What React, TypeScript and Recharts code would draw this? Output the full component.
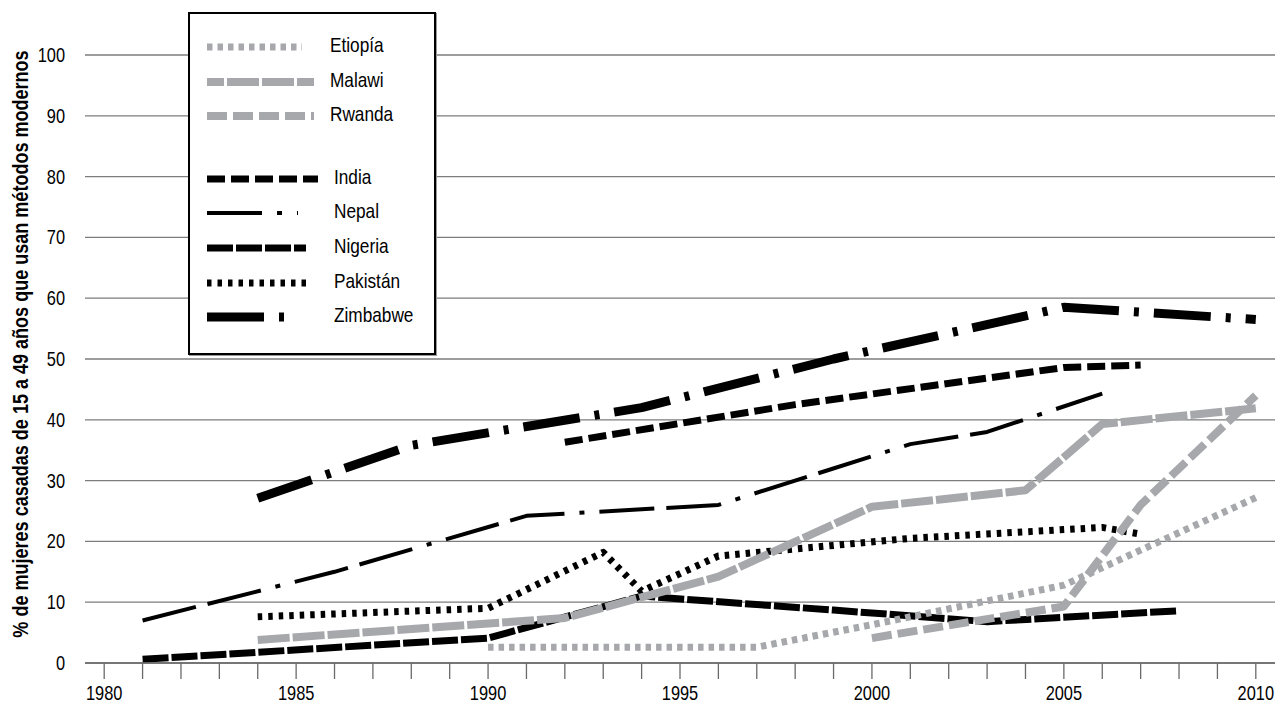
import React from 'react';
import { LineChart, Line, XAxis, YAxis, CartesianGrid, Legend } from 'recharts';

// ---- data ----
const etiopiaYears = [1990, 1997, 2000, 2005, 2010];
const etiopiaValues = [2.6, 2.6, 6.3, 12.8, 27.2];

const malawiYears = [1984, 1992, 1996, 2000, 2004, 2006, 2010];
const malawiValues = [3.8, 7.4, 14.2, 25.7, 28.4, 39.3, 41.9];

const rwandaYears = [2000, 2005, 2007, 2010];
const rwandaValues = [4.1, 9.3, 26, 44];

const indiaYears = [1992, 1998, 2005, 2007];
const indiaValues = [36.3, 42.5, 48.6, 49];

const nepalYears = [1981, 1986, 1991, 1996, 2001, 2003, 2006];
const nepalValues = [7, 15, 24.2, 26, 36, 38, 44.3];

const nigeriaYears = [1981, 1990, 1994, 1999, 2003, 2008];
const nigeriaValues = [0.6, 4.1, 11, 8.7, 6.8, 8.6];

const pakistanYears = [1984, 1990, 1993, 1994, 1996, 2001, 2006, 2007];
const pakistanValues = [7.6, 9.0, 18.2, 11.8, 17.6, 20.5, 22.3, 21.2];

const zimbabweYears = [1984, 1988, 1994, 1999, 2005, 2010];
const zimbabweValues = [27.1, 35.8, 42, 50, 58.5, 56.5];

const xTicks = [
  1980, 1981, 1982, 1983, 1984, 1985, 1986, 1987, 1988, 1989, 1990,
  1991, 1992, 1993, 1994, 1995, 1996, 1997, 1998, 1999, 2000,
  2001, 2002, 2003, 2004, 2005, 2006, 2007, 2008, 2009, 2010,
];
const xLabelYears = [1980, 1985, 1990, 1995, 2000, 2005, 2010];
const yTicks = [0, 10, 20, 30, 40, 50, 60, 70, 80, 90, 100];

const yTitle = '% de mujeres casadas de 15 a 49 años que usan métodos modernos';

// ---- styles ----
const GRAY = '#a6a8ab';
const BLACK = '#000000';
const GRID = '#7d7d7d';
const FONT = '"Liberation Sans", Arial, sans-serif';
const NARROW = 0.82;

type Series = {
  name: string;
  years: number[];
  values: number[];
  color: string;
  width: number;
  dash: string;
  sampleLen: number;
  sampleOffset: number;
};

const etiopia: Series = { name: 'Etiopía', years: etiopiaYears, values: etiopiaValues, color: GRAY, width: 7, dash: '5.5 5', sampleLen: 95, sampleOffset: 0 };
const malawi: Series = { name: 'Malawi', years: malawiYears, values: malawiValues, color: GRAY, width: 8, dash: '32 3', sampleLen: 107, sampleOffset: 15 };
const rwanda: Series = { name: 'Rwanda', years: rwandaYears, values: rwandaValues, color: GRAY, width: 8, dash: '20 6', sampleLen: 107, sampleOffset: 0 };
const india: Series = { name: 'India', years: indiaYears, values: indiaValues, color: BLACK, width: 7, dash: '18 6', sampleLen: 111, sampleOffset: 0 };
const nepal: Series = { name: 'Nepal', years: nepalYears, values: nepalValues, color: BLACK, width: 4, dash: '55 12 55 15 5 15', sampleLen: 91, sampleOffset: 67 };
const nigeria: Series = { name: 'Nigeria', years: nigeriaYears, values: nigeriaValues, color: BLACK, width: 7, dash: '26 3', sampleLen: 99, sampleOffset: 0 };
const pakistan: Series = { name: 'Pakistán', years: pakistanYears, values: pakistanValues, color: BLACK, width: 7, dash: '4.5 6', sampleLen: 103, sampleOffset: 0 };
const zimbabwe: Series = { name: 'Zimbabwe', years: zimbabweYears, values: zimbabweValues, color: BLACK, width: 9, dash: '57 15 5 15', sampleLen: 81, sampleOffset: 0 };

const legendOrder: Series[] = [etiopia, malawi, rwanda, india, nepal, nigeria, pakistan, zimbabwe];
const drawOrder: Series[] = [india, nepal, nigeria, pakistan, zimbabwe, etiopia, malawi, rwanda];

const toPoints = (s: Series) => s.years.map((year, i) => ({ year, value: s.values[i] }));

const XTick = (props: any) => {
  const { x, y, payload } = props;
  const v = payload?.value;
  if (!xLabelYears.includes(v)) return <g />;
  return (
    <text
      transform={`translate(${x},${y}) scale(${NARROW},1)`}
      textAnchor="middle"
      dy={13.5}
      fontSize={20}
      fontFamily={FONT}
      fill="#000"
    >
      {String(v)}
    </text>
  );
};

const YTick = (props: any) => {
  const { x, y, payload } = props;
  return (
    <text
      transform={`translate(${x},${y}) scale(${NARROW},1)`}
      textAnchor="end"
      dy={7}
      fontSize={20}
      fontFamily={FONT}
      fill="#000"
    >
      {String(payload?.value)}
    </text>
  );
};

const LegendBox = () => (
  <div
    style={{
      position: 'relative',
      width: 248,
      height: 343,
      boxSizing: 'border-box',
      border: '2px solid #000',
      background: '#fff',
      boxShadow: '1px 1px 0 #999',
    }}
  >
    {legendOrder.map((s, i) => {
      const cy = 33 + i * 34.6 + (i >= 3 ? 28 : 0);
      return (
        <div key={s.name} style={{ position: 'absolute', left: 0, top: cy - 15, width: '100%', height: 30 }}>
          <svg style={{ position: 'absolute', left: 17, top: 0 }} width={120} height={30}>
            <line
              x1={0}
              y1={15}
              x2={s.sampleLen}
              y2={15}
              stroke={s.color}
              strokeWidth={s.width}
              strokeDasharray={s.dash}
              strokeDashoffset={s.sampleOffset}
            />
          </svg>
          <span
            style={{
              position: 'absolute',
              left: i >= 3 ? 144 : 140,
              top: -2,
              lineHeight: '30px',
              fontSize: 21,
              fontFamily: FONT,
              color: '#000',
              whiteSpace: 'nowrap',
              transform: `scaleX(${NARROW})`,
              transformOrigin: 'left center',
            }}
          >
            {s.name}
          </span>
        </div>
      );
    })}
  </div>
);

export default function App() {
  return (
    <div style={{ position: 'absolute', left: 0, top: 0, width: 1277, height: 704, background: '#fff', overflow: 'hidden' }}>
      <LineChart width={1277} height={704} margin={{ top: 55, right: 2, bottom: 0, left: 0 }}>
        <CartesianGrid horizontal vertical={false} stroke={GRID} strokeWidth={1.3} />
        <XAxis
          dataKey="year"
          type="number"
          domain={[1979.5, 2010.5]}
          ticks={xTicks}
          interval={0}
          height={41}
          tickSize={16}
          tickMargin={7}
          axisLine={{ stroke: '#6a6a6a', strokeWidth: 1.5 }}
          tickLine={{ stroke: '#6a6a6a', strokeWidth: 1.3 }}
          tick={<XTick />}
        />
        <YAxis
          type="number"
          domain={[0, 100]}
          ticks={yTicks}
          interval={0}
          width={85}
          axisLine={false}
          tickLine={false}
          tickSize={0}
          tickMargin={20}
          tick={<YTick />}
        />
        {drawOrder.map((s) => (
          <Line
            key={s.name}
            data={toPoints(s)}
            dataKey="value"
            name={s.name}
            type="linear"
            stroke={s.color}
            strokeWidth={s.width}
            strokeDasharray={s.dash}
            strokeLinecap="butt"
            strokeLinejoin="round"
            dot={false}
            activeDot={false}
            isAnimationActive={false}
          />
        ))}
        <Legend
          layout="vertical"
          align="center"
          verticalAlign="middle"
          wrapperStyle={{ position: 'absolute', left: 188, top: 12, width: 248, height: 343, right: 'auto', bottom: 'auto' }}
          content={() => <LegendBox />}
        />
      </LineChart>
      <svg style={{ position: 'absolute', left: 0, top: 0, pointerEvents: 'none' }} width={60} height={704}>
        <text
          transform={`translate(28,344) rotate(-90) scale(${NARROW},1)`}
          textAnchor="middle"
          fontSize={22}
          fontWeight="bold"
          fontFamily={FONT}
          fill="#000"
        >
          {yTitle}
        </text>
      </svg>
    </div>
  );
}
